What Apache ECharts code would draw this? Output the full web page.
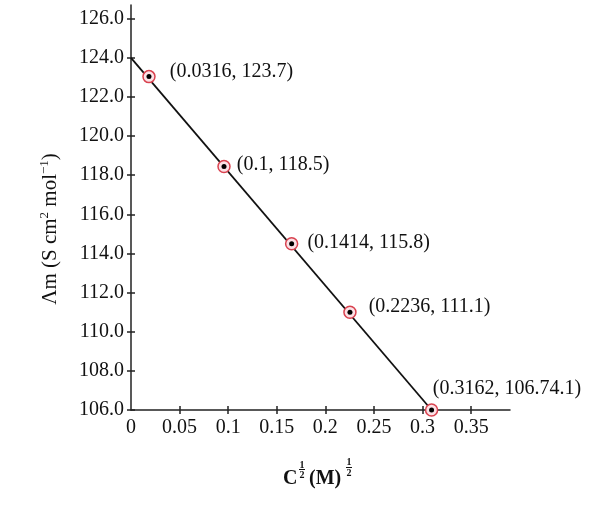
<!DOCTYPE html>
<html><head><meta charset="utf-8">
<script src="https://cdn.jsdelivr.net/npm/echarts@6/dist/echarts.min.js"></script>
<style>html,body{margin:0;padding:0;background:#fff}#c{width:600px;height:514px}</style>
</head><body><div id="c"></div>
<script>
// ---- data ----
const pointX = [0.0185, 0.0957, 0.1653, 0.2253, 0.3093];
const pointY = [123.04, 118.45, 114.5, 111.0, 106.0];
const pointLabels = ['(0.0316, 123.7)', '(0.1, 118.5)', '(0.1414, 115.8)', '(0.2236, 111.1)', '(0.3162, 106.74.1)'];
const fitLineX = [0, 0.3093];
const fitLineY = [124, 106];
const xTickValues = [0, 0.05, 0.1, 0.15, 0.2, 0.25, 0.3, 0.35];
const xTickLabels = ['0', '0.05', '0.1', '0.15', '0.2', '0.25', '0.3', '0.35'];
const yTickValues = [106, 108, 110, 112, 114, 116, 118, 120, 122, 124, 126];
const yTickLabels = ['106.0', '108.0', '110.0', '112.0', '114.0', '116.0', '118.0', '120.0', '122.0', '124.0', '126.0'];

// ---- styling ----
const FONT = '"Liberation Serif", "Times New Roman", serif';
const TXT = '#111';
const labelStyle = [
  {position: 'right', distance: 14, offset: [0, -5]},
  {position: 'right', distance: 6, offset: [0, -2]},
  {position: 'right', distance: 9, offset: [0, -1]},
  {position: 'right', distance: 12, offset: [0, -5]},
  {position: [8, -15], align: 'left', verticalAlign: 'middle'}
];

const chart = echarts.init(document.getElementById('c'), null, {renderer: 'canvas'});
const pts = pointX.map((x, i) => [x, pointY[i]]);
const fit = fitLineX.map((x, i) => [x, fitLineY[i]]);
const xTickMarks = xTickValues.filter(v => v !== 0);

const baseX = {
  type: 'value', min: 0, max: 0.39, gridIndex: 0,
  splitLine: {show: false},
  axisLine: {show: true, onZero: false, lineStyle: {color: '#222', width: 1.5}},
};
const baseY = {
  type: 'value', min: 106, max: 126.7, gridIndex: 0,
  splitLine: {show: false},
  axisLine: {show: true, onZero: false, lineStyle: {color: '#222', width: 1.5}},
};

const option = {
  animation: false,
  backgroundColor: '#fff',
  grid: {left: 131, right: 90, top: 5, bottom: 104, containLabel: false},
  xAxis: [
    Object.assign({}, baseX, {
      position: 'bottom',
      axisTick: {show: true, inside: false, length: 4, lineStyle: {color: '#222', width: 1.5}, customValues: xTickMarks},
      axisLabel: {
        show: true, margin: 8, color: TXT, fontFamily: FONT, fontSize: 20,
        customValues: xTickValues,
        formatter: v => xTickLabels[xTickValues.findIndex(t => Math.abs(t - v) < 1e-9)]
      }
    }),
    Object.assign({}, baseX, {
      position: 'bottom',
      axisLine: {show: false, onZero: false},
      axisTick: {show: true, inside: true, length: 4, lineStyle: {color: '#222', width: 1.5}, customValues: xTickMarks},
      axisLabel: {show: false}
    })
  ],
  yAxis: [
    Object.assign({}, baseY, {
      position: 'left',
      axisTick: {show: true, inside: false, length: 4, lineStyle: {color: '#222', width: 1.5}, customValues: yTickValues},
      axisLabel: {
        show: true, margin: 7, color: TXT, fontFamily: FONT, fontSize: 20,
        customValues: yTickValues,
        formatter: v => yTickLabels[yTickValues.findIndex(t => Math.abs(t - v) < 1e-9)]
      }
    }),
    Object.assign({}, baseY, {
      position: 'left',
      axisLine: {show: false, onZero: false},
      axisTick: {show: true, inside: true, length: 4, lineStyle: {color: '#222', width: 1.5}, customValues: yTickValues},
      axisLabel: {show: false}
    })
  ],
  series: [
    {
      type: 'line', data: fit, xAxisIndex: 0, yAxisIndex: 0,
      showSymbol: false, symbol: 'none',
      lineStyle: {color: '#111', width: 1.8}, silent: true, z: 2
    },
    {
      type: 'scatter', xAxisIndex: 0, yAxisIndex: 0, z: 3,
      symbol: 'circle', symbolSize: 12,
      itemStyle: {color: '#fbe1e6', borderColor: '#d9424f', borderWidth: 1.5, opacity: 1},
      data: pts.map((p, i) => ({
        value: p,
        label: Object.assign({
          show: true, formatter: pointLabels[i], color: TXT,
          fontFamily: FONT, fontSize: 20
        }, labelStyle[i])
      }))
    },
    {
      type: 'scatter', xAxisIndex: 0, yAxisIndex: 0, z: 4,
      symbol: 'circle', symbolSize: 5,
      itemStyle: {color: '#000', opacity: 1},
      data: pts
    }
  ],
  graphic: [
    // y-axis title
    {
      type: 'text', x: 50, y: 229, rotation: Math.PI / 2,
      style: {
        text: 'Λm (S cm{sup|2} mol{sup|−1})',
        fill: TXT, font: '21px ' + FONT, align: 'center', verticalAlign: 'middle',
        rich: {sup: {fontSize: 13, fontFamily: FONT, fill: TXT, padding: [0, 0, 11, 0]}}
      }
    },
    // x-axis title: C^(1/2) (M)^(1/2)
    {type: 'text', x: 283, y: 479, style: {text: 'C', fill: TXT, font: 'bold 20px ' + FONT, align: 'left', verticalAlign: 'middle'}},
    {type: 'text', x: 302, y: 465, style: {text: '1', fill: TXT, font: 'bold 10px ' + FONT, align: 'center', verticalAlign: 'middle'}},
    {type: 'line', shape: {x1: 299, y1: 469.5, x2: 305, y2: 469.5}, style: {stroke: TXT, lineWidth: 1}},
    {type: 'text', x: 302, y: 475, style: {text: '2', fill: TXT, font: 'bold 10px ' + FONT, align: 'center', verticalAlign: 'middle'}},
    {type: 'text', x: 309, y: 479, style: {text: '(M)', fill: TXT, font: 'bold 20px ' + FONT, align: 'left', verticalAlign: 'middle'}},
    {type: 'text', x: 349, y: 462, style: {text: '1', fill: TXT, font: 'bold 10px ' + FONT, align: 'center', verticalAlign: 'middle'}},
    {type: 'line', shape: {x1: 346, y1: 467.5, x2: 352, y2: 467.5}, style: {stroke: TXT, lineWidth: 1}},
    {type: 'text', x: 349, y: 473, style: {text: '2', fill: TXT, font: 'bold 10px ' + FONT, align: 'center', verticalAlign: 'middle'}}
  ]
};
chart.setOption(option);
</script>
</body></html>
